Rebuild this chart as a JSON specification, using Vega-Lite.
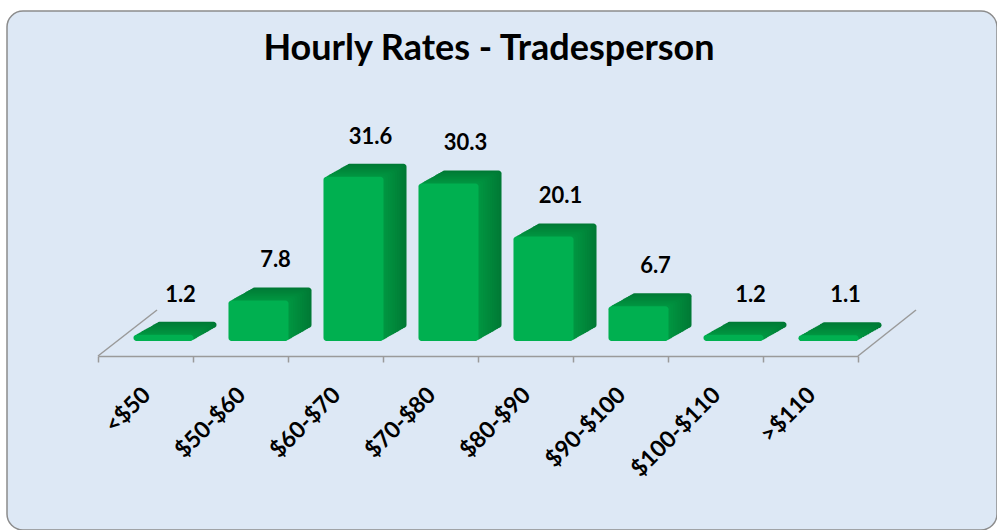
{
  "$schema": "https://vega.github.io/schema/vega-lite/v6.json",
  "width": 990,
  "height": 519,
  "autosize": "none",
  "padding": {"left": 7, "top": 11, "right": 0, "bottom": 0},
  "background": "white",
  "title": {
    "text": "Hourly Rates - Tradesperson",
    "font": "Lato",
    "fontSize": 36,
    "fontWeight": "bold",
    "color": "black",
    "anchor": "middle",
    "baseline": "top",
    "offset": -27,
    "dx": -13,
    "dy": 30
  },
  "config": {
    "view": {"fill": "#dde8f5", "stroke": "#8c8c8c", "strokeWidth": 1.5, "cornerRadius": 16},
    "axisX": {
      "domainColor": "#9a9a9a",
      "domainWidth": 1.5,
      "tickColor": "#9a9a9a",
      "tickWidth": 1.5,
      "tickSize": 6,
      "tickBand": "extent",
      "labelAngle": -45,
      "labelAlign": "right",
      "labelBaseline": "middle",
      "labelFont": "Lato",
      "labelFontWeight": "bold",
      "labelFontSize": 23,
      "labelColor": "black",
      "labelPadding": 29,
      "labelOffset": 1,
      "labelOverlap": false,
      "labelBound": false,
      "labelFlush": false,
      "offset": -174,
      "grid": false
    }
  },
  "data": {
    "values": [
      {"cat": "<$50", "value": 1.2},
      {"cat": "$50-$60", "value": 7.8},
      {"cat": "$60-$70", "value": 31.6},
      {"cat": "$70-$80", "value": 30.3},
      {"cat": "$80-$90", "value": 20.1},
      {"cat": "$90-$100", "value": 6.7},
      {"cat": "$100-$110", "value": 1.2},
      {"cat": ">$110", "value": 1.1}
    ]
  },
  "encoding": {
    "x": {
      "field": "cat",
      "type": "nominal",
      "title": null,
      "scale": {
        "domain": ["<$50", "$50-$60", "$60-$70", "$70-$80", "$80-$90", "$90-$100", "$100-$110", ">$110"],
        "range": [91, 851],
        "paddingInner": 0,
        "paddingOuter": 0
      }
    },
    "y": {
      "field": "value",
      "type": "quantitative",
      "stack": null,
      "axis": null,
      "scale": {"domain": [0, 66.35], "range": [345, 0], "nice": false, "zero": true}
    }
  },
  "layer": [
    {
      "data": {"values": [{"cat": "<$50", "value": 0}]},
      "mark": {"type": "point", "shape": "M0,0L1.283,-1", "size": 8464, "filled": false, "stroke": "#9a9a9a", "strokeWidth": 1.5, "opacity": 1},
      "encoding": {
        "x": {"field": "cat", "type": "nominal", "bandPosition": 0, "title": null}
      }
    },
    {
      "data": {"values": [{"cat": ">$110", "value": 0}]},
      "mark": {"type": "point", "shape": "M0,0L1.261,-1", "size": 8464, "filled": false, "stroke": "#9a9a9a", "strokeWidth": 1.5, "opacity": 1},
      "encoding": {
        "x": {"field": "cat", "type": "nominal", "bandPosition": 1, "title": null}
      }
    },
    {"mark": {"type": "bar", "color": "#007a35", "width": {"band": 0.632}, "cornerRadius": 3, "xOffset": 41, "yOffset": -28, "y2Offset": -28}, "encoding": {"y2": {"datum": 0}}},
    {"mark": {"type": "bar", "color": "#007d36", "width": {"band": 0.632}, "cornerRadius": 3, "xOffset": 38.7, "yOffset": -26.7, "y2Offset": -26.7}, "encoding": {"y2": {"datum": 0}}},
    {"mark": {"type": "bar", "color": "#008038", "width": {"band": 0.632}, "cornerRadius": 3, "xOffset": 36.4, "yOffset": -25.4, "y2Offset": -25.4}, "encoding": {"y2": {"datum": 0}}},
    {"mark": {"type": "bar", "color": "#008339", "width": {"band": 0.632}, "cornerRadius": 3, "xOffset": 34.1, "yOffset": -24.1, "y2Offset": -24.1}, "encoding": {"y2": {"datum": 0}}},
    {"mark": {"type": "bar", "color": "#00863a", "width": {"band": 0.632}, "cornerRadius": 3, "xOffset": 31.8, "yOffset": -22.8, "y2Offset": -22.8}, "encoding": {"y2": {"datum": 0}}},
    {"mark": {"type": "bar", "color": "#00893b", "width": {"band": 0.632}, "cornerRadius": 3, "xOffset": 29.5, "yOffset": -21.5, "y2Offset": -21.5}, "encoding": {"y2": {"datum": 0}}},
    {"mark": {"type": "bar", "color": "#008c3d", "width": {"band": 0.632}, "cornerRadius": 3, "xOffset": 27.2, "yOffset": -20.2, "y2Offset": -20.2}, "encoding": {"y2": {"datum": 0}}},
    {"mark": {"type": "bar", "color": "#008f3e", "width": {"band": 0.632}, "cornerRadius": 3, "xOffset": 24.9, "yOffset": -18.9, "y2Offset": -18.9}, "encoding": {"y2": {"datum": 0}}},
    {"mark": {"type": "bar", "color": "#00923f", "width": {"band": 0.632}, "cornerRadius": 3, "xOffset": 22.6, "yOffset": -17.6, "y2Offset": -17.6}, "encoding": {"y2": {"datum": 0}}},
    {"mark": {"type": "bar", "color": "#009541", "width": {"band": 0.632}, "cornerRadius": 3, "xOffset": 20.3, "yOffset": -16.3, "y2Offset": -16.3}, "encoding": {"y2": {"datum": 0}}},
    {"mark": {"type": "bar", "color": "#00b050", "width": {"band": 0.632}, "cornerRadius": 3, "xOffset": 18, "yOffset": -15, "y2Offset": -15}, "encoding": {"y2": {"datum": 0}}},
    {
      "mark": {"type": "text", "dx": 35, "dy": -48, "baseline": "alphabetic", "font": "Lato", "fontWeight": "bold", "fontSize": 22, "color": "black"},
      "encoding": {"text": {"field": "value", "type": "quantitative", "format": ".1f"}}
    }
  ]
}
